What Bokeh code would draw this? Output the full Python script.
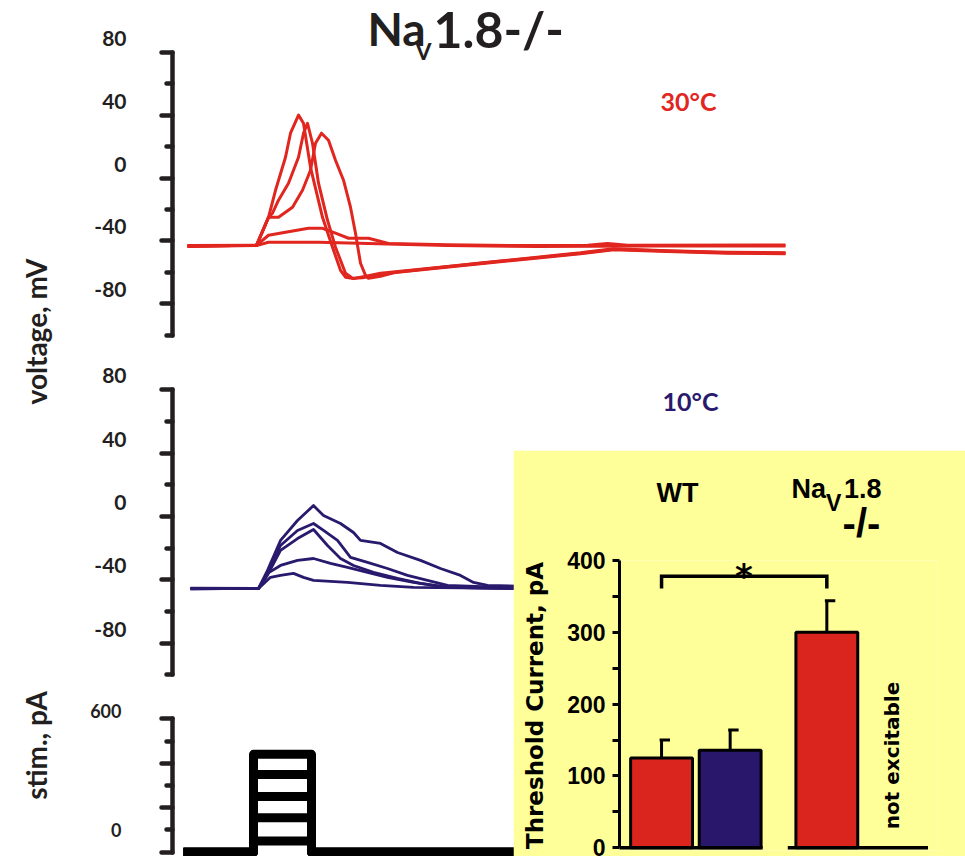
import math

from bokeh.core.properties import value
from bokeh.embed import file_html
from bokeh.models import FactorRange, FixedTicker, Range1d
from bokeh.plotting import figure
from bokeh.resources import INLINE

PAGE_W, PAGE_H = 965, 856

# ---------------------------------------------------------------------------
# Current-clamp sweeps recorded at 30 °C: (time, ms ; membrane potential, mV)
RED_AP_1 = [(0, -43.2), (69, -42.8), (81, -25.0), (88, -7.8), (98, 13.2), (103, 28.5),
            (111, 40.0), (116, 34.8), (123, 6.8), (135, -25.0), (145, -44.0), (153, -58.7),
            (158, -63.1), (166, -64.0), (193, -60.6), (293, -54.2), (393, -47.9),
            (426, -45.3), (480, -46.5), (540, -47.5), (598, -47.9)]
RED_AP_2 = [(0, -43.2), (69, -42.8), (81, -25.0), (85, -22.4), (91, -14.1), (101, -3.3),
            (111, 13.2), (116, 28.5), (120, 34.8), (125, 22.1), (131, -3.3), (140, -26.9),
            (148, -44.0), (158, -60.6), (165, -63.8), (175, -63.5), (193, -61.0),
            (293, -54.5), (393, -48.2), (426, -45.6), (480, -46.8), (540, -47.8), (598, -48.2)]
RED_AP_3 = [(0, -43.2), (69, -42.8), (81, -25.0), (91, -25.0), (105, -18.6), (115, -7.8),
            (123, 4.9), (128, 22.1), (134, 28.5), (141, 24.0), (148, 11.3), (156, -1.4),
            (163, -18.6), (168, -35.1), (173, -54.2), (178, -61.9), (181, -63.8),
            (193, -62.5), (208, -60.0), (293, -54.0), (393, -47.6), (426, -45.0),
            (480, -46.2), (540, -47.2), (598, -47.6)]
RED_SUB_1 = [(0, -43.0), (69, -42.8), (81, -36.4), (98, -34.5), (121, -32.0), (135, -32.0),
             (148, -35.1), (161, -38.3), (181, -38.3), (201, -41.7), (260, -42.5),
             (330, -43.0), (400, -42.8), (420, -41.7), (440, -42.8), (598, -42.6)]
RED_SUB_2 = [(0, -43.5), (69, -43.0), (81, -40.9), (131, -40.9), (181, -41.7), (260, -43.0),
             (350, -43.5), (460, -43.3), (598, -43.2)]

# Current-clamp sweeps recorded at 10 °C
BLUE_1 = [(3, -45.4), (71, -45.4), (80, -34.0), (93, -15.1), (110, -2.5), (126, 6.9),
          (136, 0.6), (153, -4.4), (166, -10.1), (173, -15.1), (193, -17.0), (210, -22.7),
          (233, -27.7), (253, -32.8), (273, -37.2), (286, -41.6), (300, -43.5), (330, -44.0)]
BLUE_2 = [(3, -45.6), (71, -45.4), (80, -36.0), (93, -18.3), (110, -8.8), (126, -4.4),
          (136, -8.8), (150, -15.1), (163, -25.8), (180, -29.0), (200, -32.8), (220, -37.2),
          (240, -40.3), (260, -43.5), (330, -45.0)]
BLUE_3 = [(3, -45.2), (71, -45.4), (80, -37.0), (93, -21.4), (110, -13.9), (126, -8.2),
          (140, -18.3), (153, -26.5), (166, -30.9), (186, -35.3), (210, -39.1), (233, -42.2),
          (260, -44.7), (330, -45.4)]
BLUE_4 = [(3, -45.4), (71, -45.4), (80, -35.9), (93, -30.9), (110, -27.7), (126, -26.5),
          (143, -29.6), (160, -32.1), (180, -35.3), (200, -38.4), (226, -41.6), (260, -44.7),
          (330, -45.4)]
BLUE_5 = [(3, -45.6), (71, -45.4), (83, -38.4), (93, -37.2), (106, -35.9), (116, -38.4),
          (126, -40.3), (160, -41.6), (193, -43.5), (226, -44.7), (330, -45.4)]

# Stimulus protocol: rectangular current steps
STIM_LEVELS_PA = [50, 155, 250, 350, 440]
STIM_ON_MS, STIM_OFF_MS = 66, 124
STIM_START_MS, STIM_END_MS = -4, 330

# Axis ticks
MV_TICKS = [-80, -40, 0, 40, 80]
MV_MINOR = [-100, -60, -20, 20, 60]
STIM_TICKS = [0, 200, 400, 600]
STIM_LABELLED = [0, 600]
STIM_MINOR = [100, 300, 500]
THR_TICKS = [0, 100, 200, 300, 400]
THR_MINOR = [50, 150, 250, 350]

# Threshold current summary (mean ± SEM); the knock-out is not excitable at 10 °C
GENOTYPES = ["WT", "WT", "NaV1.8-/-", "NaV1.8-/-"]
TEMPS = ["30°C", "10°C", "30°C", "10°C"]
THRESHOLD_PA = [125, 136, 300]
THRESHOLD_SEM = [25, 28, 44]

# ---------------------------------------------------------------------------
INK = "#231f20"
RED = "#e0261f"
NAVY = "#2a1a6e"
BAR_RED = "#d9251e"
BAR_NAVY = "#28176a"
YELLOW = "#ffff99"
TEMP_COLOR = {"30°C": BAR_RED, "10°C": BAR_NAVY}


def frame_range(v_ref, px_ref, px_per_unit, frame_top, frame_bottom):
    """Range whose value v_ref lands at page row px_ref for a frame spanning the given rows."""
    return Range1d(v_ref - (frame_bottom - px_ref) / px_per_unit,
                   v_ref + (px_ref - frame_top) / px_per_unit)


def place(fig, left, top):
    fig.styles = {"position": "absolute", "left": f"{left}px", "top": f"{top}px"}


def trace_panel(y_range, frame_top, frame_bottom):
    p = figure(width=PAGE_W, height=PAGE_H, x_range=Range1d(-15, 613), y_range=y_range,
               x_axis_location=None, y_axis_location="left", tools="",
               toolbar_location=None, output_backend="svg",
               min_border_left=172, min_border_right=PAGE_W - 800,
               min_border_top=frame_top, min_border_bottom=PAGE_H - frame_bottom,
               background_fill_color=None, border_fill_color=None, outline_line_color=None)
    p.xgrid.visible = False
    p.ygrid.visible = False
    place(p, 0, 0)
    return p


def style_trace_axis(ax, ticks, minor, bounds, size, standoff, line_height, labelled=None):
    ax.ticker = FixedTicker(ticks=ticks, minor_ticks=minor)
    ax.bounds = bounds
    ax.axis_line_color = INK
    ax.axis_line_width = 4.5
    ax.axis_line_cap = "round"
    ax.major_tick_line_color = INK
    ax.major_tick_line_width = 4.5
    ax.major_tick_line_cap = "round"
    ax.major_tick_in = 0
    ax.major_tick_out = 11
    ax.minor_tick_line_color = INK
    ax.minor_tick_line_width = 4.5
    ax.minor_tick_line_cap = "round"
    ax.minor_tick_in = 0
    ax.minor_tick_out = 6
    ax.major_label_text_font = "Lato"
    ax.major_label_text_font_style = "bold"
    ax.major_label_text_font_size = size
    ax.major_label_text_color = INK
    ax.major_label_text_line_height = line_height
    ax.major_label_standoff = standoff
    # plain hyphen-minus, label riding just above its tick (blank second line)
    shown = ticks if labelled is None else labelled
    ax.major_label_overrides = {t: (f"{t:d}\n" if t in shown else "") for t in ticks}


def label(p, x, y, text, size, font="Lato", color=INK, align="center", angle=0.0):
    p.text(x=[x], y=[y], text=[text], text_font=value(font), text_font_style="bold",
           text_font_size=size, text_color=color, text_align=align,
           text_baseline="middle", angle=angle)


# ---------------------------------------------------------------------------
# 30 °C voltage traces
p_red = trace_panel(frame_range(80, 51.7, 1.5725, 45, 345), 45, 345)
style_trace_axis(p_red.yaxis[0], MV_TICKS, MV_MINOR, (-100, 80), "21px", 35, 1.2)
for sweep in (RED_SUB_2, RED_SUB_1, RED_AP_3, RED_AP_2, RED_AP_1):
    t, mv = zip(*sweep)
    p_red.line(list(t), list(mv), line_color=RED, line_width=3, line_join="round")
label(p_red, 501, 48.8, "30°C", "25px", color=RED)

# 10 °C voltage traces
p_blue = trace_panel(frame_range(80, 389.3, 1.584, 380, 690), 380, 690)
style_trace_axis(p_blue.yaxis[0], MV_TICKS, MV_MINOR, (-100, 80), "21px", 35, 1.2)
for sweep in (BLUE_5, BLUE_4, BLUE_3, BLUE_2, BLUE_1):
    t, mv = zip(*sweep)
    p_blue.line(list(t), list(mv), line_color=NAVY, line_width=2.8, line_join="round")
label(p_blue, 503, 73, "10°C", "25px", color=NAVY)

# Injected current steps
p_stim = trace_panel(frame_range(600, 718.3, 0.2223, 700, 856), 700, 856)
style_trace_axis(p_stim.yaxis[0], STIM_TICKS, STIM_MINOR, (0, 600), "18px", 40, 0.7,
                 labelled=STIM_LABELLED)
for level in STIM_LEVELS_PA:
    p_stim.line([STIM_START_MS, STIM_ON_MS, STIM_ON_MS, STIM_OFF_MS, STIM_OFF_MS, STIM_END_MS],
                [0, 0, level, level, 0, 0], line_color="black", line_width=9,
                line_join="round")

# Threshold current bar chart (yellow inset)
factors = list(zip(GENOTYPES, TEMPS))
x_range = FactorRange(*factors, factor_padding=0.054, group_padding=0.485,
                      range_padding=0.146, range_padding_units="absolute")
p_bar = figure(width=PAGE_W - 513, height=PAGE_H - 450, x_range=x_range,
               y_range=frame_range(400, 560, 0.7183, 560, 850),
               x_axis_location=None, y_axis_location="left", tools="",
               toolbar_location=None, output_backend="svg",
               min_border_left=106, min_border_right=28, min_border_top=110,
               min_border_bottom=6,
               background_fill_color=YELLOW, border_fill_color=YELLOW, outline_line_color=None)
p_bar.xgrid.visible = False
p_bar.ygrid.visible = False
place(p_bar, 513, 450)
ax = p_bar.yaxis[0]
ax.ticker = FixedTicker(ticks=THR_TICKS, minor_ticks=THR_MINOR)
ax.bounds = (0, 400)
ax.axis_line_color = "black"
ax.axis_line_width = 3
ax.major_tick_line_color = "black"
ax.major_tick_line_width = 3
ax.major_tick_in = 0
ax.major_tick_out = 7
ax.minor_tick_line_color = "black"
ax.minor_tick_line_width = 3
ax.minor_tick_in = 0
ax.minor_tick_out = 7
ax.major_label_text_font = "Liberation Sans"
ax.major_label_text_font_style = "bold"
ax.major_label_text_font_size = "23px"
ax.major_label_text_color = "black"
ax.major_label_text_line_height = 0.9
ax.major_label_standoff = 7
ax.axis_label = "Threshold Current, pA"
ax.axis_label_text_font = "DejaVu Sans"
ax.axis_label_text_font_style = "bold"
ax.axis_label_text_font_size = "23px"
ax.axis_label_text_color = "black"
ax.axis_label_standoff = 16

bar_x = factors[:len(THRESHOLD_PA)]
p_bar.vbar(x=bar_x, top=THRESHOLD_PA, width=0.95,
           fill_color=[TEMP_COLOR[f[1]] for f in bar_x], line_color="black", line_width=3)
err_top = [m + s for m, s in zip(THRESHOLD_PA, THRESHOLD_SEM)]
p_bar.segment(x0=bar_x, y0=THRESHOLD_PA, x1=bar_x, y1=err_top, line_color="black", line_width=3)
p_bar.segment(x0=[(g, t, -0.03) for g, t in bar_x], y0=err_top,
              x1=[(g, t, 0.13) for g, t in bar_x], y1=err_top,
              line_color="black", line_width=3)
# baseline under each genotype group
p_bar.segment(x0=[(GENOTYPES[0], TEMPS[0], -0.7), (GENOTYPES[2], TEMPS[2], -0.6)], y0=[0, 0],
              x1=[(GENOTYPES[1], TEMPS[1], 0.5), (GENOTYPES[3], TEMPS[3], 0.5)], y1=[0, 0],
              line_color="black", line_width=3.5)
# significance bracket WT vs knock-out at 30 °C
p_bar.line(x=[factors[0], factors[0], factors[2], factors[2]], y=[361, 378, 378, 361],
           line_color="black", line_width=3.5, line_join="miter")
label(p_bar, (GENOTYPES[1], TEMPS[1], 0.21), 379, "*", "34px", font="DejaVu Sans",
      color="black")
label(p_bar, (GENOTYPES[3], TEMPS[3], -0.05), 128.5, "not excitable", "20px",
      font="DejaVu Sans", color="black", angle=math.pi / 2)

# Page layer on top: title, shared axis names and the inset's group headings (pixel space)
page = figure(width=PAGE_W, height=PAGE_H, x_range=Range1d(0, PAGE_W), y_range=Range1d(PAGE_H, 0),
              x_axis_location=None, y_axis_location=None, tools="", toolbar_location=None,
              output_backend="svg", min_border=0, background_fill_color=None,
              border_fill_color=None, outline_line_color=None)
page.xgrid.visible = False
page.ygrid.visible = False
place(page, 0, 0)
label(page, 367, 28, "Na", "46px", align="left")
label(page, 415, 50, "V", "23px", align="left")
label(page, 433, 28, "1.8-/-", "50px", align="left")
label(page, 35, 331, "voltage, mV", "28px", angle=math.pi / 2)
label(page, 35, 745, "stim., pA", "28px", angle=math.pi / 2)
label(page, 677, 492, "WT", "27px", font="Liberation Sans", color="black")
label(page, 825.5, 488, "Na", "27px", font="Liberation Sans", color="black", align="right")
label(page, 825.5, 502, "V", "23px", font="Liberation Sans", color="black", align="left")
label(page, 843.5, 488, "1.8", "27px", font="Liberation Sans", color="black", align="left")
label(page, 861, 522.5, "-/-", "40px", font="Liberation Sans", color="black")

# each panel is its own root, stacked at fixed page offsets on a white page
with open("out.html", "w") as fh:
    fh.write(file_html([p_red, p_blue, p_stim, p_bar, page], INLINE,
                       title="NaV1.8-/- threshold"))
